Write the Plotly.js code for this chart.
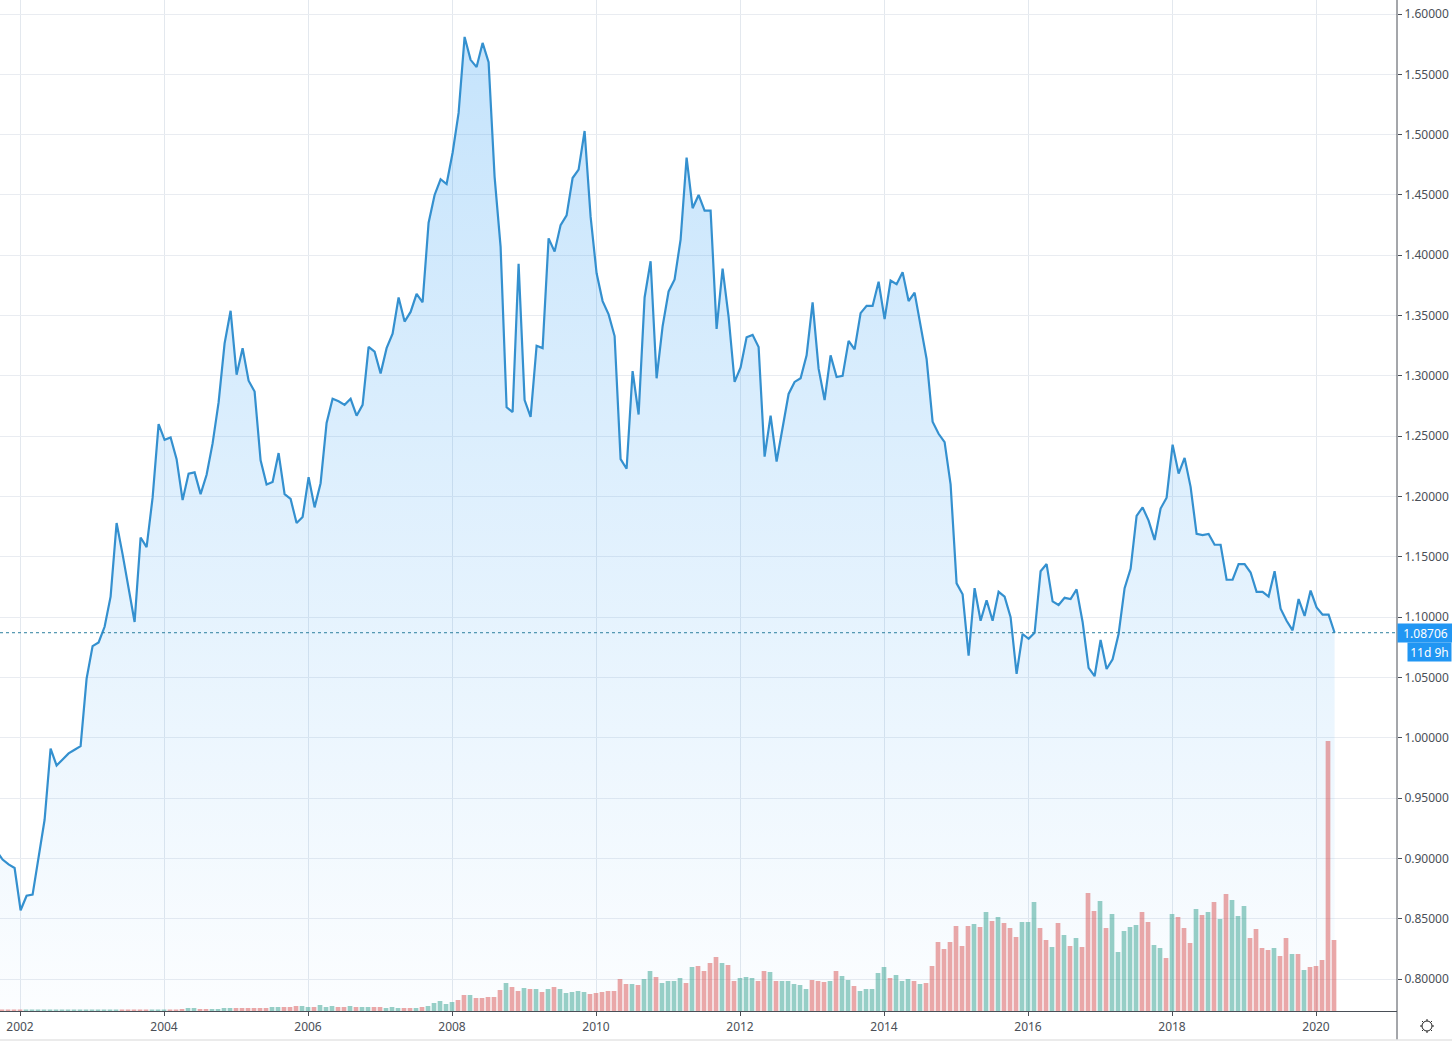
<!DOCTYPE html>
<html>
<head>
<meta charset="utf-8">
<script src="https://cdn.plot.ly/plotly-3.0.1.min.js"></script>
<style>html,body{margin:0;padding:0;background:#fff;overflow:hidden}#chart{width:1452px;height:1043px}</style>
</head>
<body>
<div id="chart"></div>
<script>
// Months are counted from January 2002 (bar/point index -4 = September 2001).
const firstMonth = -4;
// The source draws its close line a fraction of a month right of the month's grid position.
const lineOffset = 0.1;

const closePrices = [
  0.906,0.899,0.895,0.892,0.857,0.869,0.870,0.901,0.932,0.991,        // -4..5
  0.977,0.982,0.987,0.990,0.993,1.049,1.076,1.079,1.092,1.117,        // 6..15
  1.178,1.152,1.124,1.096,1.166,1.158,1.199,1.260,1.247,1.249,        // 16..25
  1.231,1.197,1.219,1.220,1.202,1.218,1.244,1.278,1.327,1.354,        // 26..35
  1.301,1.323,1.296,1.287,1.230,1.210,1.212,1.236,1.202,1.198,        // 36..45
  1.178,1.183,1.216,1.191,1.211,1.261,1.281,1.279,1.276,1.281,        // 46..55
  1.267,1.276,1.324,1.320,1.302,1.323,1.335,1.365,1.345,1.353,        // 56..65
  1.368,1.361,1.427,1.450,1.463,1.459,1.485,1.518,1.581,1.562,        // 66..75
  1.556,1.576,1.560,1.465,1.407,1.274,1.270,1.393,1.280,1.266,        // 76..85
  1.325,1.323,1.414,1.403,1.425,1.433,1.464,1.471,1.503,1.432,        // 86..95
  1.385,1.362,1.351,1.333,1.231,1.223,1.304,1.268,1.365,1.395,        // 96..105
  1.298,1.341,1.370,1.380,1.413,1.481,1.439,1.450,1.437,1.437,        // 106..115
  1.339,1.389,1.349,1.295,1.307,1.332,1.334,1.324,1.233,1.267,        // 116..125
  1.229,1.258,1.285,1.295,1.298,1.317,1.361,1.306,1.280,1.317,        // 126..135
  1.299,1.300,1.329,1.322,1.352,1.358,1.358,1.378,1.347,1.379,        // 136..145
  1.376,1.386,1.362,1.369,1.342,1.314,1.262,1.252,1.245,1.210,        // 146..155
  1.128,1.119,1.068,1.124,1.097,1.114,1.097,1.121,1.117,1.100,        // 156..165
  1.053,1.086,1.082,1.087,1.138,1.144,1.113,1.110,1.116,1.115,        // 166..175
  1.123,1.096,1.058,1.051,1.081,1.057,1.065,1.086,1.124,1.140,        // 176..185
  1.184,1.191,1.180,1.164,1.190,1.199,1.243,1.219,1.232,1.208,        // 186..195
  1.169,1.168,1.169,1.160,1.160,1.131,1.131,1.144,1.144,1.137,        // 196..205
  1.121,1.121,1.117,1.138,1.107,1.097,1.089,1.115,1.101,1.122,        // 206..215
  1.108,1.102,1.102,1.08706                                           // 216..219
];

// Volume in units.
const volumes = [
  1.5,1.5,1.5,1.5,1.5,1.5,1.5,1.5,1.5,1.5,   // -4..5
  1.5,1.5,1.5,1.5,1.5,1.5,1.5,1.5,1.5,1.5,   // 6..15
  1.5,1.5,1.5,1.5,1.5,1.5,1.5,1.5,1.5,1.5,   // 16..25
  1.5,2,3,3,2,2,2,2,3,3,                     // 26..35
  3,3,3,3,3,3,4,4,4,4,                       // 36..45
  5,5,4,4,6,4,5,4,4,5,                       // 46..55
  4,4,4,4,4,3,4,3,3,3,                       // 56..65
  3,4,5,8,10,7,9,11,16,16,                   // 66..75
  13,13,14,14,21,28,24,20,23,22,             // 76..85
  22,19,22,24,22,18,19,20,19,17,             // 86..95
  18,19,20,20,32,27,27,26,32,40,             // 96..105
  34,28,30,30,33,28,44,45,40,48,             // 106..115
  54,48,46,30,33,34,33,30,40,39,             // 116..125
  30,30,30,27,26,22,31,30,29,30,             // 126..135
  40,35,31,25,20,22,22,38,44,33,             // 136..145
  36,30,32,30,27,28,45,69,62,69,             // 146..155
  85,65,85,87,84,99,90,94,88,83,             // 156..165
  74,89,89,109,83,71,64,88,76,65,            // 166..175
  73,64,118,100,110,83,97,59,80,84,          // 176..185
  86,99,89,66,63,53,97,94,83,68,             // 186..195
  102,96,99,109,92,117,111,95,105,73,        // 196..205
  82,63,61,63,55,73,57,57,41,44,             // 206..215
  45,51,270,71                               // 216..219
];

const volumeDirections = (
  "rrrrrggggg" + "gggggggggg" + "grrrrrgggr" +  // -4..25
  "rrggrrgggg" + "rrrrrrggrr" + "rggrgggrrg" +  // 26..55
  "rggrrgggrr" + "grgggggrrg" + "rrrrrgrrgr" +  // 56..85
  "grgrgggggr" + "rrrrrrgrgg" + "rggggrgrrr" +  // 86..115
  "rgrrgggrrg" + "rgggggrrrg" + "rggrgggggr" +  // 116..145
  "gggrgrrrrr" + "rrrgrgrgrr" + "rgggrrgrgr" +  // 146..175
  "grrrgrgggg" + "grrggrgrrr" + "grgrgrgggr" +  // 176..205
  "rrrgrrgrgr" + "rrrr"                         // 206..219
).split("");

const yearTickLabels = ["2002","2004","2006","2008","2010","2012","2014","2016","2018","2020"];
const yearTickMonths = [0,24,48,72,96,120,144,168,192,216];
const lastPrice = 1.08706;
const countdownLabel = "11d 9h";

const monthIndex = closePrices.map((_, i) => firstMonth + i);
const barColors = volumeDirections.map(d => d === "g" ? "rgba(49,159,141,0.5)" : "rgba(215,82,82,0.5)");

const W = 1452, H = 1043, L = 1397, B = 1011;
const px = x => x / L;
const py = y => (B - y) / B;

// small settings "sun" glyph and chrome lines beneath the axes
const cx = 1427, cy = 1026, r = 5;
const shapes = [
  {type:'line', xref:'paper', yref:'y', x0:0, x1:1, y0:lastPrice, y1:lastPrice,
   line:{color:'#2c7f9e', width:1, dash:'dot'}},
  {type:'line', xref:'paper', yref:'paper', x0:1, x1:1, y0:py(0), y1:py(1040),
   line:{color:'#4a4f57', width:1}},
  {type:'line', xref:'paper', yref:'paper', x0:0, x1:px(W), y0:py(1040), y1:py(1040),
   line:{color:'#e4e4e4', width:1.5}},
  {type:'circle', xref:'paper', yref:'paper', x0:px(cx-r), x1:px(cx+r), y0:py(cy+r), y1:py(cy-r),
   line:{color:'#222', width:1}}
];
[0,45,90,135,180,225,270,315].forEach(a => {
  const c = Math.cos(a*Math.PI/180), s = Math.sin(a*Math.PI/180);
  shapes.push({type:'line', xref:'paper', yref:'paper',
    x0:px(cx+c*r), x1:px(cx+c*(r+2)), y0:py(cy+s*r), y1:py(cy+s*(r+2)),
    line:{color:'#222', width:1}});
});

const areaTrace = {
  type:'scatter', mode:'lines', x:monthIndex.map(m => m + lineOffset), y:closePrices, yaxis:'y', xaxis:'x',
  line:{color:'#3490cf', width:2.2, shape:'linear'},
  fill:'tozeroy',
  fillgradient:{type:'vertical', start:1.58, stop:0.7735,
    colorscale:[[0,'rgba(33,150,243,0.26)'],[1,'rgba(33,150,243,0.015)']]},
  hoverinfo:'skip', showlegend:false
};
const volumeTrace = {
  type:'bar', x:monthIndex, y:volumes, yaxis:'y2', xaxis:'x',
  marker:{color:barColors, line:{width:0}},
  hoverinfo:'skip', showlegend:false
};

const tickFont = {family:'"Noto Sans","Open Sans",sans-serif', size:12, color:'#4a4f57'};
const layout = {
  width:W, height:H, margin:{l:0, r:W-L, t:0, b:H-B, pad:0},
  paper_bgcolor:'#fff', plot_bgcolor:'#fff', bargap:0.22, showlegend:false,
  xaxis:{type:'linear', range:[-20/6, (L-20)/6], tickmode:'array',
    tickvals:yearTickMonths, ticktext:yearTickLabels,
    showgrid:true, gridcolor:'#e3e8ee', gridwidth:1, zeroline:false,
    showline:true, linecolor:'#4a4f57', linewidth:1, ticklabelstandoff:1,
    ticks:'outside', ticklen:4, tickcolor:'#4a4f57', tickfont:tickFont, fixedrange:true},
  yaxis:{side:'right', range:[1.6-997/1206.25, 1.6+14/1206.25], autorange:false,
    tick0:0, dtick:0.05, tickformat:'.5f',
    showgrid:true, gridcolor:'#e9ecf1', gridwidth:1, zeroline:false,
    showline:false, ticks:'outside', ticklen:4, tickcolor:'#4a4f57', tickfont:tickFont, fixedrange:true},
  yaxis2:{overlaying:'y', side:'right', range:[0,B], showgrid:false, zeroline:false,
    showticklabels:false, ticks:'', showline:false, fixedrange:true},
  shapes:shapes,
  annotations:[
    {xref:'paper', yref:'y', x:1, y:lastPrice, xanchor:'left', yanchor:'middle',
     text:lastPrice.toFixed(5), showarrow:false, width:55, height:18, bgcolor:'#2196f3',
     align:'center', borderpad:0,
     font:{family:tickFont.family, size:12, color:'#fff'}},
    {xref:'paper', yref:'y', x:px(W), y:lastPrice, yshift:-19.5, xanchor:'right', yanchor:'middle',
     text:countdownLabel, showarrow:false, width:43, height:18, bgcolor:'#2196f3',
     align:'center', borderpad:0,
     font:{family:tickFont.family, size:12, color:'#fff'}}
  ]
};
Plotly.newPlot('chart', [areaTrace, volumeTrace], layout, {displayModeBar:false, staticPlot:true});
</script>
</body>
</html>
